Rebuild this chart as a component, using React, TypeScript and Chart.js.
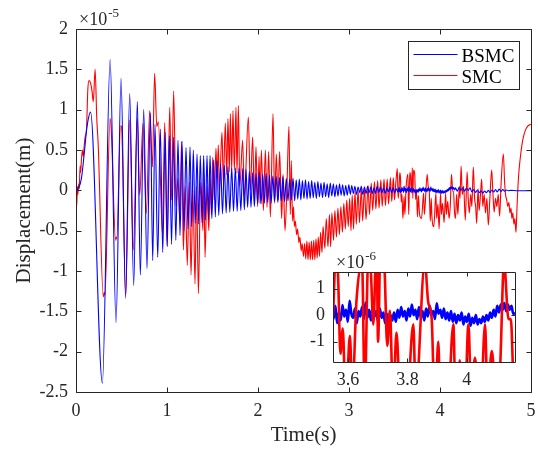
import React, { useEffect, useRef } from "react";
import { Chart, registerables } from "chart.js";

Chart.register(...registerables);

// Displacement values are in micrometres (1e-6 m); time in seconds.
// BSMC response
const bsmcSegA = [[0,0],[0.03,0.3],[0.06,1.5],[0.09,4.5],[0.12,7.8],[0.16,9.7],[0.29,-23.9],[0.375,16.2],[0.44,-16.4],[0.495,13.9],[0.545,-13.4],[0.59,12.0],[0.634,-11.8],[0.674,11.0],[0.707,-10.5],[0.744,10.0],[0.78,-9.7],[0.817,9.6],[0.843,-8.7],[0.868,8.2],[0.898,-8.3],[0.927,7.6],[0.953,-7.7],[0.98,7.2]];
const bsmcSegB = [[1.003,-7.0],[1.026,6.8],[1.05,-6.7],[1.073,6.6],[1.097,-6.2],[1.121,6.2],[1.143,-5.6],[1.165,6.1],[1.187,-5.0],[1.209,5.3],[1.231,-4.8],[1.253,5.4],[1.271,-4.5],[1.289,5.0],[1.31,-4.1],[1.33,4.5],[1.348,-4.2],[1.366,4.3],[1.385,-4.0],[1.403,4.3],[1.421,-3.7],[1.44,4.3],[1.456,-3.6],[1.473,4.3],[1.493,-3.5],[1.513,3.8],[1.531,-3.3],[1.549,3.7],[1.569,-3.1],[1.589,3.3],[1.61,-2.9],[1.63,3.1],[1.65,-2.8],[1.67,3.0],[1.69,-2.7],[1.711,2.8],[1.731,-2.6],[1.751,2.8],[1.771,-2.6],[1.791,2.8],[1.811,-2.5],[1.832,2.7],[1.85,-2.4],[1.868,2.6],[1.886,-2.1],[1.905,2.4],[1.923,-2.1],[1.941,2.2],[1.96,-2.0],[1.978,2.1],[1.996,-1.7]];
const bsmcSegC = [[2.015,2.2],[2.033,-1.7],[2.052,2.0],[2.07,-1.6],[2.089,2.1],[2.107,-1.5],[2.126,1.9],[2.144,-1.6],[2.163,1.8],[2.181,-1.4],[2.2,1.7],[2.218,-1.5],[2.237,1.6],[2.255,-1.3],[2.274,1.7],[2.292,-1.4],[2.311,1.5],[2.329,-1.3],[2.348,1.4],[2.366,-1.2],[2.385,1.5],[2.403,-1.3],[2.42,1.3],[2.437,-1.1],[2.454,1.4],[2.471,-1.2],[2.488,1.2],[2.505,-1.0],[2.522,1.3],[2.539,-1.1],[2.556,1.1],[2.573,-1.0],[2.59,1.2],[2.607,-0.9],[2.624,1.0],[2.641,-1.0],[2.658,1.1],[2.675,-0.8],[2.692,0.9],[2.709,-0.9],[2.726,1.0],[2.743,-0.8],[2.76,0.8],[2.777,-0.9],[2.794,0.9],[2.811,-0.7],[2.828,0.8],[2.845,-0.8],[2.862,0.7],[2.879,-0.7],[2.896,0.8],[2.913,-0.6],[2.93,0.7],[2.947,-0.7],[2.964,0.6],[2.981,-0.6],[2.998,0.7]];
const bsmcSegD = [[3.015,-0.5],[3.03,0.6],[3.048,-0.4],[3.065,0.5],[3.082,-0.5],[3.1,0.4],[3.118,-0.3],[3.135,0.5],[3.152,-0.5],[3.17,0.4],[3.188,-0.4],[3.205,0.5],[3.222,-0.3],[3.24,0.4],[3.258,-0.4],[3.275,0.3],[3.292,-0.4],[3.31,0.5],[3.328,-0.3],[3.345,0.4],[3.362,-0.3],[3.38,0.3],[3.398,-0.4],[3.415,0.3],[3.432,-0.2],[3.45,0.4],[3.468,-0.3],[3.485,0.3],[3.502,-0.3],[3.52,0.2],[3.537,-0.2]];
const bsmcSegE = [[3.545,0.29],[3.551,-0.15],[3.557,0.35],[3.563,-0.3],[3.569,0.1],[3.575,-0.2],[3.581,0.38],[3.587,-0.05],[3.593,0.2],[3.599,-0.25],[3.605,0.54],[3.611,0.05],[3.617,-0.1],[3.623,0.25],[3.629,-0.3],[3.635,0.15],[3.641,-0.05],[3.647,0.3],[3.653,-0.15],[3.659,0.47],[3.665,-0.1],[3.671,0.2],[3.677,-0.2],[3.683,0.3],[3.689,-0.05],[3.695,0.15],[3.701,-0.25],[3.707,0.25],[3.713,-0.1],[3.719,0.1],[3.725,-0.3],[3.731,0.05],[3.737,-0.35],[3.743,0.0],[3.749,-0.2],[3.755,0.1],[3.761,-0.25],[3.767,0.2],[3.773,-0.1],[3.779,0.3],[3.785,-0.05],[3.791,0.15],[3.797,-0.2],[3.803,0.25],[3.809,-0.05],[3.815,0.4],[3.821,0.0],[3.827,0.2],[3.833,-0.15],[3.839,0.3],[3.845,-0.1],[3.851,0.15],[3.857,-0.2],[3.863,0.25],[3.869,-0.05],[3.875,0.35],[3.881,0.0],[3.887,0.15],[3.893,-0.15],[3.899,0.44],[3.905,0.05],[3.911,0.2],[3.917,-0.1],[3.923,0.25],[3.929,-0.15],[3.935,0.1],[3.941,-0.2],[3.947,0.15],[3.953,-0.25],[3.959,0.05],[3.965,-0.3],[3.971,0.0],[3.977,-0.2],[3.983,0.1],[3.989,-0.35],[3.995,-0.05],[4.001,-0.25],[4.007,0.05],[4.013,-0.4],[4.019,-0.1],[4.025,-0.3],[4.031,0.0],[4.037,-0.35],[4.043,-0.15],[4.049,-0.3],[4.055,-0.05],[4.061,-0.25],[4.067,0.0],[4.073,-0.2],[4.079,0.1],[4.085,-0.1],[4.091,0.2],[4.097,-0.05],[4.103,0.35],[4.109,0.1],[4.115,0.4],[4.121,0.2],[4.127,0.45],[4.133,0.15],[4.139,0.4],[4.145,0.2],[4.151,0.35],[4.157,0.05],[4.163,0.1]];
const bsmcSegF = [[4.17,0.3],[4.19,-0.1],[4.21,0.35],[4.23,0.0],[4.25,0.3],[4.27,-0.1],[4.29,0.25],[4.31,0.0],[4.33,0.3],[4.35,-0.2],[4.37,0.1],[4.39,-0.25],[4.41,0.05],[4.43,-0.3],[4.45,-0.05],[4.47,-0.35],[4.49,-0.1],[4.51,-0.3],[4.53,0.0],[4.55,-0.25],[4.57,0.05],[4.59,-0.2],[4.61,0.1],[4.63,-0.2],[4.65,0.15],[4.67,-0.15],[4.69,0.1],[4.71,-0.1],[4.73,0.05],[4.75,-0.05],[4.78,0.0],[4.85,-0.05],[4.92,-0.05],[5.0,-0.05]];

// SMC response
const smcSegA = [[0,0],[0.008,-2.0],[0.015,0.5],[0.02,-0.5],[0.03,0.8],[0.035,0.2],[0.045,3.0],[0.05,2.2],[0.06,3.8],[0.07,5.0],[0.08,4.2],[0.09,5.5],[0.1,6.6],[0.115,7.5],[0.13,12.5],[0.143,13.6],[0.16,13.3],[0.175,12.4],[0.19,11.0],[0.21,15.0],[0.228,9.0],[0.245,5.4],[0.3,-13.2],[0.31,-12.6],[0.318,-13.0],[0.374,8.9],[0.385,8.0],[0.436,-6.2],[0.442,-5.8],[0.448,-6.0],[0.49,8.0],[0.5,7.9],[0.546,-13.0],[0.59,8.7],[0.63,-7.4],[0.674,8.9],[0.7,-0.6],[0.736,8.3],[0.773,-2.9],[0.81,9.9],[0.84,2.9],[0.864,14.5],[0.888,7.9],[0.905,8.5],[0.95,-5.4],[0.975,8.4]];
const smcSegB = [[1.0,-6.8],[1.03,10.3],[1.05,-1.2],[1.073,12.3],[1.1,-2.0],[1.12,1.5],[1.14,-3.5],[1.16,6.0],[1.18,-7.4],[1.2,0.5],[1.223,-9.3],[1.245,1.0],[1.264,-10.5],[1.285,0.0],[1.308,-11.6],[1.325,0.5],[1.345,-12.8],[1.37,1.0],[1.395,-5.0],[1.405,2.0],[1.418,-8.3],[1.44,0.5],[1.46,-5.0],[1.475,1.5],[1.488,-3.0],[1.502,4.1],[1.52,-1.2],[1.538,5.2],[1.55,1.5],[1.564,5.6],[1.575,-0.2],[1.604,7.2],[1.619,1.0],[1.641,8.3],[1.656,1.9],[1.67,8.9],[1.685,2.3],[1.696,9.5],[1.711,2.5],[1.725,9.9],[1.74,2.5],[1.758,10.3],[1.769,2.1],[1.784,10.5],[1.8,0.5],[1.831,6.2],[1.85,-0.8],[1.894,9.1],[1.916,0.0],[1.941,6.6],[1.96,-1.2],[1.978,5.4],[1.996,-2.0]];
const smcSegC = [[2.012,4.2],[2.022,-1.6],[2.037,5.0],[2.059,-2.5],[2.081,5.0],[2.099,-2.1],[2.117,4.8],[2.136,-3.3],[2.165,9.5],[2.183,-1.6],[2.201,4.5],[2.22,-1.2],[2.238,4.8],[2.26,-3.5],[2.275,2.0],[2.297,-5.0],[2.318,0.5],[2.34,7.9],[2.355,-3.0],[2.366,3.7],[2.38,-3.8],[2.39,-2.0],[2.4,-4.5],[2.41,-3.8],[2.425,-5.5],[2.435,-4.8],[2.45,-6.5],[2.46,-5.8],[2.475,-7.5],[2.485,-6.6],[2.5,-8.2],[2.512,-6.6],[2.525,-8.5],[2.537,-6.3],[2.55,-8.6],[2.562,-6.4],[2.575,-8.6],[2.587,-6.3],[2.6,-8.6],[2.612,-6.2],[2.625,-8.6],[2.637,-6.0],[2.65,-8.4],[2.662,-5.8],[2.675,-8.2],[2.688,-5.2],[2.703,-7.7],[2.715,-4.5],[2.735,-7.2],[2.75,-3.5],[2.769,-7.0],[2.785,-3.0],[2.798,-7.0],[2.812,-2.8],[2.83,-6.2],[2.845,-2.5],[2.862,-5.8],[2.878,-2.2],[2.895,-5.5],[2.91,-2.0],[2.928,-5.2],[2.943,-1.6],[2.96,-4.8],[2.975,-1.2],[2.992,-4.5]];
const smcSegD = [[3.007,-1.0],[3.022,-5.0],[3.035,-0.6],[3.05,-4.8],[3.066,-0.2],[3.08,-4.2],[3.1,0.0],[3.115,-4.0],[3.135,0.2],[3.15,-3.8],[3.17,0.4],[3.187,-3.6],[3.21,0.6],[3.225,-3.0],[3.245,0.9],[3.26,-2.5],[3.28,1.1],[3.295,-2.3],[3.315,1.2],[3.33,-2.2],[3.35,1.3],[3.365,-2.0],[3.385,1.4],[3.4,-1.9],[3.42,1.4],[3.435,-1.7],[3.455,1.6],[3.47,-1.4],[3.487,1.6],[3.5,-1.2],[3.515,1.0],[3.531,2.7],[3.54,-1.0]];
const smcSegE = [[3.549,0.0],[3.558,2.2],[3.566,1.5],[3.574,-1.45],[3.582,-0.5],[3.592,-3.5],[3.606,-0.78],[3.614,-3.0],[3.628,0.5],[3.647,2.0],[3.656,-3.0],[3.668,2.2],[3.676,1.8],[3.685,-0.35],[3.696,2.8],[3.701,-1.0],[3.709,2.5],[3.721,2.2],[3.732,-1.15],[3.741,0.16],[3.752,-3.3],[3.763,-0.65],[3.775,-3.0],[3.797,-3.5],[3.82,-0.34],[3.828,-3.0],[3.859,2.0],[3.87,0.5],[3.882,-0.15],[3.893,-3.8],[3.904,-1.0],[3.91,-3.0],[3.932,-4.5],[3.955,-0.34],[3.963,-3.5],[3.977,-1.7],[3.99,-4.8],[4.006,-0.34],[4.015,-3.0],[4.028,-1.6],[4.045,-4.0],[4.062,-0.34],[4.07,-3.0],[4.085,-1.35],[4.1,-3.5],[4.113,-1.9],[4.126,2.0],[4.141,-0.15],[4.149,-0.15],[4.158,-2.5]];
const smcSegF = [[4.17,-3.5],[4.183,-0.5],[4.197,-3.0],[4.212,0.5],[4.22,-1.0],[4.232,3.0],[4.245,-0.5],[4.26,0.5],[4.278,-3.7],[4.298,2.3],[4.31,-1.0],[4.322,-2.8],[4.338,-0.5],[4.35,-2.0],[4.366,2.9],[4.38,-1.0],[4.392,-2.0],[4.403,-4.1],[4.418,0.2],[4.43,-2.5],[4.445,-0.5],[4.458,1.4],[4.47,-2.0],[4.485,-0.5],[4.5,-2.8],[4.515,-1.0],[4.531,-4.3],[4.548,-1.0],[4.568,2.5],[4.58,0.0],[4.595,-2.7],[4.61,-1.0],[4.625,-2.0],[4.64,-0.5],[4.655,-3.2],[4.672,1.0],[4.696,4.5],[4.71,1.0],[4.72,-0.5],[4.733,-1.2],[4.745,-2.0],[4.757,-1.5],[4.769,-2.8],[4.78,-2.2],[4.79,-3.5],[4.8,-2.8],[4.812,-4.2],[4.822,-3.5],[4.835,-5.2],[4.845,-2.5],[4.853,-0.4],[4.865,2.0],[4.879,3.7],[4.9,5.6],[4.916,6.6],[4.94,7.5],[4.96,7.9],[4.98,8.1],[5.0,8.2]];

const seriesLabels = ["BSMC", "SMC"];
const seriesColors = ["#0000ff", "#ff0000"];
const mainXTicks = [0, 1, 2, 3, 4, 5];
const mainYTicks = [-2.5, -2, -1.5, -1, -0.5, 0, 0.5, 1, 1.5, 2];
const insetXTicks = [3.6, 3.8, 4];
const insetYTicks = [-1, 0, 1];
const axisTitles = ["Time(s)", "Displacement(m)"];
const exponents = ["-5", "-6"];

const SERIF = "'Liberation Serif', 'Times New Roman', Times, serif";
const AXIS = "#262626";

const bsmcAll = [...bsmcSegA, ...bsmcSegB, ...bsmcSegC, ...bsmcSegD, ...bsmcSegE, ...bsmcSegF];
const smcAll = [...smcSegA, ...smcSegB, ...smcSegC, ...smcSegD, ...smcSegE, ...smcSegF];

const toPts = (pairs: number[][], k: number) => pairs.map(([t, v]) => ({ x: t, y: v * k }));

function boxPlugin(xTicks: number[], yTicks: number[], len: number) {
  return {
    id: "boxTicks",
    afterDatasetsDraw(chart: any) {
      const { ctx, chartArea: a, scales } = chart;
      const L = Math.round(a.left) + 0.5;
      const R = Math.round(a.right) + 0.5;
      const T = Math.round(a.top) + 0.5;
      const B = Math.round(a.bottom) + 0.5;
      ctx.save();
      ctx.strokeStyle = AXIS;
      ctx.lineWidth = 1;
      ctx.beginPath();
      ctx.rect(L, T, R - L, B - T);
      for (const v of xTicks) {
        const px = Math.round(scales.x.getPixelForValue(v)) + 0.5;
        ctx.moveTo(px, B); ctx.lineTo(px, B - len);
        ctx.moveTo(px, T); ctx.lineTo(px, T + len);
      }
      for (const v of yTicks) {
        const py = Math.round(scales.y.getPixelForValue(v)) + 0.5;
        ctx.moveTo(L, py); ctx.lineTo(L + len, py);
        ctx.moveTo(R, py); ctx.lineTo(R - len, py);
      }
      ctx.stroke();
      ctx.restore();
    },
  };
}

function exponentPlugin(exp: string) {
  return {
    id: "exponent",
    afterDraw(chart: any) {
      const { ctx, chartArea: a } = chart;
      ctx.save();
      ctx.fillStyle = AXIS;
      ctx.textBaseline = "alphabetic";
      ctx.textAlign = "left";
      ctx.font = `18px ${SERIF}`;
      const base = "\u00d710";
      const x0 = a.left + 3;
      const y0 = a.top - 4;
      ctx.fillText(base, x0, y0);
      const w = ctx.measureText(base).width;
      ctx.font = `13px ${SERIF}`;
      ctx.fillText(exp, x0 + w + 1, y0 - 8);
      ctx.restore();
    },
  };
}

const legendPlugin = {
  id: "boxLegend",
  afterDraw(chart: any) {
    const { ctx, chartArea: a } = chart;
    const right = Math.round(a.right) - 12 + 0.5;
    const top = Math.round(a.top) + 12 + 0.5;
    const w = 111;
    const h = 48;
    const left = right - w;
    ctx.save();
    ctx.fillStyle = "#ffffff";
    ctx.fillRect(left, top, w, h);
    ctx.strokeStyle = AXIS;
    ctx.lineWidth = 1;
    ctx.strokeRect(left, top, w, h);
    ctx.font = `19px ${SERIF}`;
    ctx.textBaseline = "alphabetic";
    ctx.textAlign = "left";
    seriesLabels.forEach((lab, i) => {
      const ly = top + 13 + i * 21;
      ctx.strokeStyle = seriesColors[i];
      ctx.lineWidth = 1.2;
      ctx.beginPath();
      ctx.moveTo(left + 5, ly);
      ctx.lineTo(left + 49, ly);
      ctx.stroke();
      ctx.fillStyle = "#000000";
      ctx.fillText(lab, left + 53, ly + 7);
    });
    ctx.restore();
  },
};

const insetBgPlugin = {
  id: "insetBg",
  beforeDatasetsDraw(chart: any) {
    const { ctx, chartArea: a } = chart;
    ctx.save();
    ctx.fillStyle = "#ffffff";
    ctx.fillRect(a.left, a.top, a.right - a.left, a.bottom - a.top);
    ctx.restore();
  },
};

const tickFont = { family: SERIF, size: 18 };
const titleFont = { family: SERIF, size: 21 };

export default function App() {
  const mainRef = useRef<HTMLCanvasElement>(null);
  const insetRef = useRef<HTMLCanvasElement>(null);

  useEffect(() => {
    const main = new Chart(mainRef.current as HTMLCanvasElement, {
      type: "line",
      data: {
        datasets: [
          { label: seriesLabels[0], data: toPts(bsmcAll, 0.1), borderColor: seriesColors[0], borderWidth: 1.1, pointRadius: 0, cubicInterpolationMode: "monotone", fill: false, clip: 0, order: 0 },
          { label: seriesLabels[1], data: toPts(smcAll, 0.1), borderColor: seriesColors[1], borderWidth: 1.1, pointRadius: 0, cubicInterpolationMode: "monotone", fill: false, clip: 0, order: 1 },
        ],
      },
      options: {
        responsive: false,
        animation: false,
        devicePixelRatio: 1,
        events: [],
        layout: { padding: { left: 0, right: 7, top: 29, bottom: 0 }, autoPadding: false },
        plugins: { legend: { display: false }, tooltip: { enabled: false } },
        scales: {
          x: {
            type: "linear", min: 0, max: 5,
            grid: { display: false, drawTicks: false }, border: { display: false },
            ticks: { padding: 8, font: tickFont, color: AXIS, maxRotation: 0, autoSkip: false, callback: (v: any) => String(v) },
            afterBuildTicks: (s: any) => { s.ticks = mainXTicks.map((v) => ({ value: v })); },
            afterFit: (s: any) => { s.height = 58; s.paddingLeft = 0; s.paddingRight = 0; },
            title: { display: true, text: axisTitles[0], color: AXIS, font: titleFont, padding: { top: 0, bottom: 2 } },
          },
          y: {
            type: "linear", min: -2.5, max: 2,
            grid: { display: false, drawTicks: false }, border: { display: false },
            ticks: { padding: 8, font: tickFont, color: AXIS, autoSkip: false, callback: (v: any) => String(v) },
            afterBuildTicks: (s: any) => { s.ticks = mainYTicks.map((v) => ({ value: v })); },
            afterFit: (s: any) => { s.width = 76; s.paddingTop = 0; s.paddingBottom = 0; },
            title: { display: true, text: axisTitles[1], color: AXIS, font: titleFont, padding: { top: 12, bottom: 0 } },
          },
        },
      } as any,
      plugins: [boxPlugin(mainXTicks, mainYTicks, 5), legendPlugin, exponentPlugin(exponents[0])],
    });

    const inset = new Chart(insetRef.current as HTMLCanvasElement, {
      type: "line",
      data: {
        datasets: [
          { label: seriesLabels[0], data: toPts(bsmcAll, 1), borderColor: seriesColors[0], borderWidth: 2.6, pointRadius: 0, cubicInterpolationMode: "monotone", fill: false, clip: 0, order: 1 },
          { label: seriesLabels[1], data: toPts(smcAll, 1), borderColor: seriesColors[1], borderWidth: 2.6, pointRadius: 0, cubicInterpolationMode: "monotone", fill: false, clip: 0, order: 0 },
        ],
      },
      options: {
        responsive: false,
        animation: false,
        devicePixelRatio: 1,
        events: [],
        layout: { padding: { left: 0, right: 23, top: 272, bottom: 0 }, autoPadding: false },
        plugins: { legend: { display: false }, tooltip: { enabled: false } },
        scales: {
          x: {
            type: "linear", min: 3.549, max: 4.163,
            grid: { display: false, drawTicks: false }, border: { display: false },
            ticks: { padding: 7, font: tickFont, color: AXIS, maxRotation: 0, autoSkip: false, callback: (v: any) => String(v) },
            afterBuildTicks: (s: any) => { s.ticks = insetXTicks.map((v) => ({ value: v })); },
            afterFit: (s: any) => { s.height = 88; s.paddingLeft = 0; s.paddingRight = 0; },
          },
          y: {
            type: "linear", min: -1.76, max: 1.62,
            grid: { display: false, drawTicks: false }, border: { display: false },
            ticks: { padding: 8, font: tickFont, color: AXIS, autoSkip: false, callback: (v: any) => String(v) },
            afterBuildTicks: (s: any) => { s.ticks = insetYTicks.map((v) => ({ value: v })); },
            afterFit: (s: any) => { s.width = 333; s.paddingTop = 0; s.paddingBottom = 0; },
          },
        },
      } as any,
      plugins: [insetBgPlugin, boxPlugin(insetXTicks, insetYTicks, 4), exponentPlugin(exponents[1])],
    });

    return () => {
      main.destroy();
      inset.destroy();
    };
  }, []);

  return (
    <div style={{ position: "absolute", left: 0, top: 0, width: 538, height: 450, background: "#ffffff" }}>
      <canvas ref={mainRef} width={538} height={450} style={{ position: "absolute", left: 0, top: 0 }} />
      <canvas ref={insetRef} width={538} height={450} style={{ position: "absolute", left: 0, top: 0 }} />
    </div>
  );
}
